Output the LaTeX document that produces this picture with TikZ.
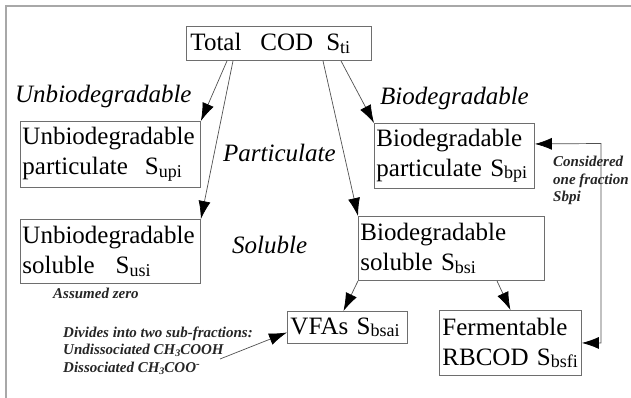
\documentclass[tikz,border=0pt]{standalone}
\usepackage{fontspec}
\setmainfont{Liberation Serif}
\usetikzlibrary{arrows.meta,calc}
\definecolor{boxgray}{HTML}{6E6E6E}
\definecolor{linegray}{HTML}{505050}
\definecolor{framegray}{HTML}{A8A8A8}
\newcommand\subx[1]{\raisebox{-2.5pt}{\fontsize{18}{18}\selectfont #1}}
\newcommand\smsub[1]{\raisebox{-2pt}{\fontsize{10}{10}\selectfont #1}}
\newcommand\smsup[1]{\raisebox{5pt}{\fontsize{11}{11}\selectfont #1}}
\newcommand\mainfs{\fontsize{25}{30}\selectfont}
\newcommand\notefs{\fontsize{15}{17}\selectfont\bfseries\itshape}
\tikzset{
  box/.style={draw=boxgray, line width=0.9pt, rectangle, anchor=north west,
    align=left, inner ysep=0pt, inner xsep=2pt, font=\mainfs},
  lab/.style={anchor=base west, inner sep=0pt, font=\mainfs\itshape},
  note/.style={anchor=base west, inner sep=0pt, font=\notefs, text=black!85},
  arr/.style={draw=linegray, line width=0.7pt, -{Latex[length=18pt,width=12pt,color=black]}},
  arrb/.style={draw=linegray, line width=0.7pt, {Latex[length=17pt,width=12pt,color=black]}-{Latex[length=17pt,width=12pt,color=black]}}
}
\begin{document}
\begin{tikzpicture}[x=1pt,y=-1pt]
\useasboundingbox (0,0) rectangle (631,398);
% frame
\draw[framegray, line width=1.6pt] (6,398) -- (6,6) -- (631,6);

% boxes
\node[box, inner xsep=4pt, minimum width=185pt, minimum height=34pt, text width=177pt] (total) at (186,26)
  {\mbox{Total\hspace{19pt}COD\hspace{13pt}S\subx{ti}}};
\node[box, minimum width=180pt, minimum height=66pt, text width=176pt] (upi) at (20,121)
  {\mbox{Unbiodegradable}\\\mbox{particulate\hspace{17pt}S\subx{upi}}};
\node[box, minimum width=180pt, minimum height=64pt, text width=176pt] (usi) at (20,219)
  {\mbox{Unbiodegradable}\\\mbox{soluble\hspace{21pt}S\subx{usi}}};
\node[box, minimum width=160pt, minimum height=65pt, text width=156pt] (bpi) at (374,123)
  {\mbox{Biodegradable}\\\mbox{particulate S\subx{bpi}}};
\node[box, minimum width=186pt, minimum height=64pt, text width=182pt] (bsi) at (358,216)
  {\mbox{Biodegradable}\\\mbox{soluble S\subx{bsi}}};
\node[box, inner xsep=3pt, minimum width=120pt, minimum height=32pt, text width=114pt] (vfa) at (287,311)
  {\mbox{VFAs S\subx{bsai}}};
\node[box, inner xsep=3pt, minimum width=142pt, minimum height=65pt, text width=136pt] (bsfi) at (439,310)
  {\mbox{Fermentable}\\\mbox{RBCOD S\subx{bsfi}}};

% italic labels
\node[lab] (lunb) at (15,103) {Unbiodegradable};
\node[lab] (lpart) at (223,162) {Particulate};
\node[lab] (lbio) at (380,105) {Biodegradable};
\node[lab] (lsol) at (232,253) {Soluble};

% notes
\node[note] (zero) at (53,298) {Assumed zero};
\node[note] (cons1) at (553,167) {Considered};
\node[note] (cons2) at (553,184) {one fraction};
\node[note] (cons3) at (553,201) {Sbpi};
\node[note] (div1) at (63,337) {Divides into two sub-fractions:};
\node[note] (div2) at (63,354) {Undissociated CH\smsub{3}COOH};
\node[note] (div3) at (63,372) {Dissociated CH\smsub{3}COO\smsup{-}};

% connectors
\draw[arr] ($(total.south west)+(41,0)$) -- (upi.north east);
\draw[arr] ($(total.south west)+(47,0)$) -- (usi.north east);
\draw[arr] ($(total.south west)+(137,0)$) -- (bsi.north west);
\draw[arr] ($(total.south west)+(155,0)$) -- (bpi.north west);
\draw[arr] (bsi.south west) -- ($(vfa.north)+(-4,0)$);
\draw[arr] ($(bsi.south west)+(139,0)$) -- (bsfi.north);
\coordinate (fb) at (601,143.5);
\draw[arrb] ($(bpi.east)+(0,-12)$) -- (fb) |- (bsfi.east);
\coordinate (divstart) at (220,359);
\draw[arr] (divstart) -- ($(vfa.west)+(0,5)$);
\end{tikzpicture}
\end{document}
